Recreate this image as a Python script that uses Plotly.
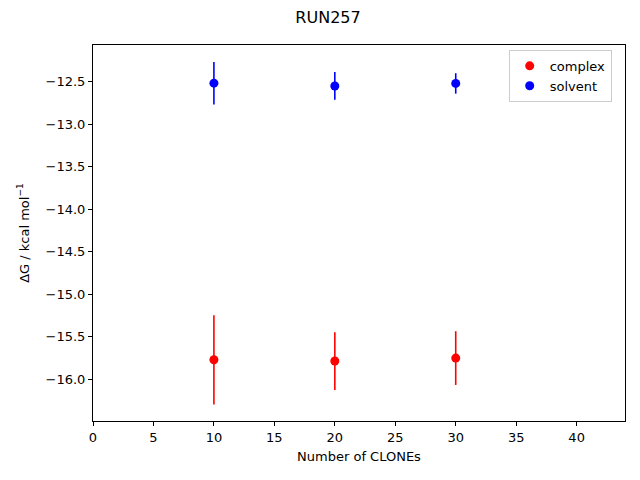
import plotly.graph_objects as go

clones = [10, 20, 30]
complex_dg = [-15.77, -15.785, -15.75]
complex_err = [0.525, 0.34, 0.316]
solvent_dg = [-12.517, -12.55, -12.52]
solvent_err = [0.25, 0.163, 0.12]

x_ticks = [0, 5, 10, 15, 20, 25, 30, 35, 40]
y_ticks = [-12.5, -13.0, -13.5, -14.0, -14.5, -15.0, -15.5, -16.0]

font = "DejaVu Sans"
fig = go.Figure()
fig.add_trace(go.Scatter(
    x=clones, y=complex_dg, mode="markers", name="complex",
    marker=dict(color="red", size=9),
    error_y=dict(type="data", array=complex_err, color="red", thickness=1.6, width=0),
))
fig.add_trace(go.Scatter(
    x=clones, y=solvent_dg, mode="markers", name="solvent",
    marker=dict(color="blue", size=9),
    error_y=dict(type="data", array=solvent_err, color="blue", thickness=1.6, width=0),
))

axis_common = dict(
    showline=True, linecolor="black", linewidth=1, mirror=True,
    ticks="outside", ticklen=4, tickcolor="black", showgrid=False, zeroline=False,
    tickfont=dict(family=font, size=13, color="black"),
)
fig.update_layout(
    width=640, height=480,
    paper_bgcolor="white", plot_bgcolor="white",
    margin=dict(l=85, r=23, t=37, b=67),
    title=dict(text="RUN257", x=0.5, xanchor="center", y=0.981, yanchor="middle",
               font=dict(family=font, size=16, color="black")),
    xaxis=dict(range=[0, 44], tickvals=x_ticks, ticktext=[str(v) for v in x_ticks],
               title=dict(text="Number of CLONEs", font=dict(family=font, size=13, color="black"), standoff=8),
               **axis_common),
    yaxis=dict(range=[-16.49, -12.068], tickvals=y_ticks,
               ticktext=["\u2212%.1f" % abs(v) for v in y_ticks],
               title=dict(text="\u0394G / kcal mol<sup>\u22121</sup>", font=dict(family=font, size=13, color="black"), standoff=13),
               **axis_common),
    legend=dict(x=0.975, y=0.987, xanchor="right", yanchor="top",
                bordercolor="#cccccc", borderwidth=1, bgcolor="rgba(255,255,255,0.8)",
                font=dict(family=font, size=13, color="black")),
)
fig.write_html("out.html")
